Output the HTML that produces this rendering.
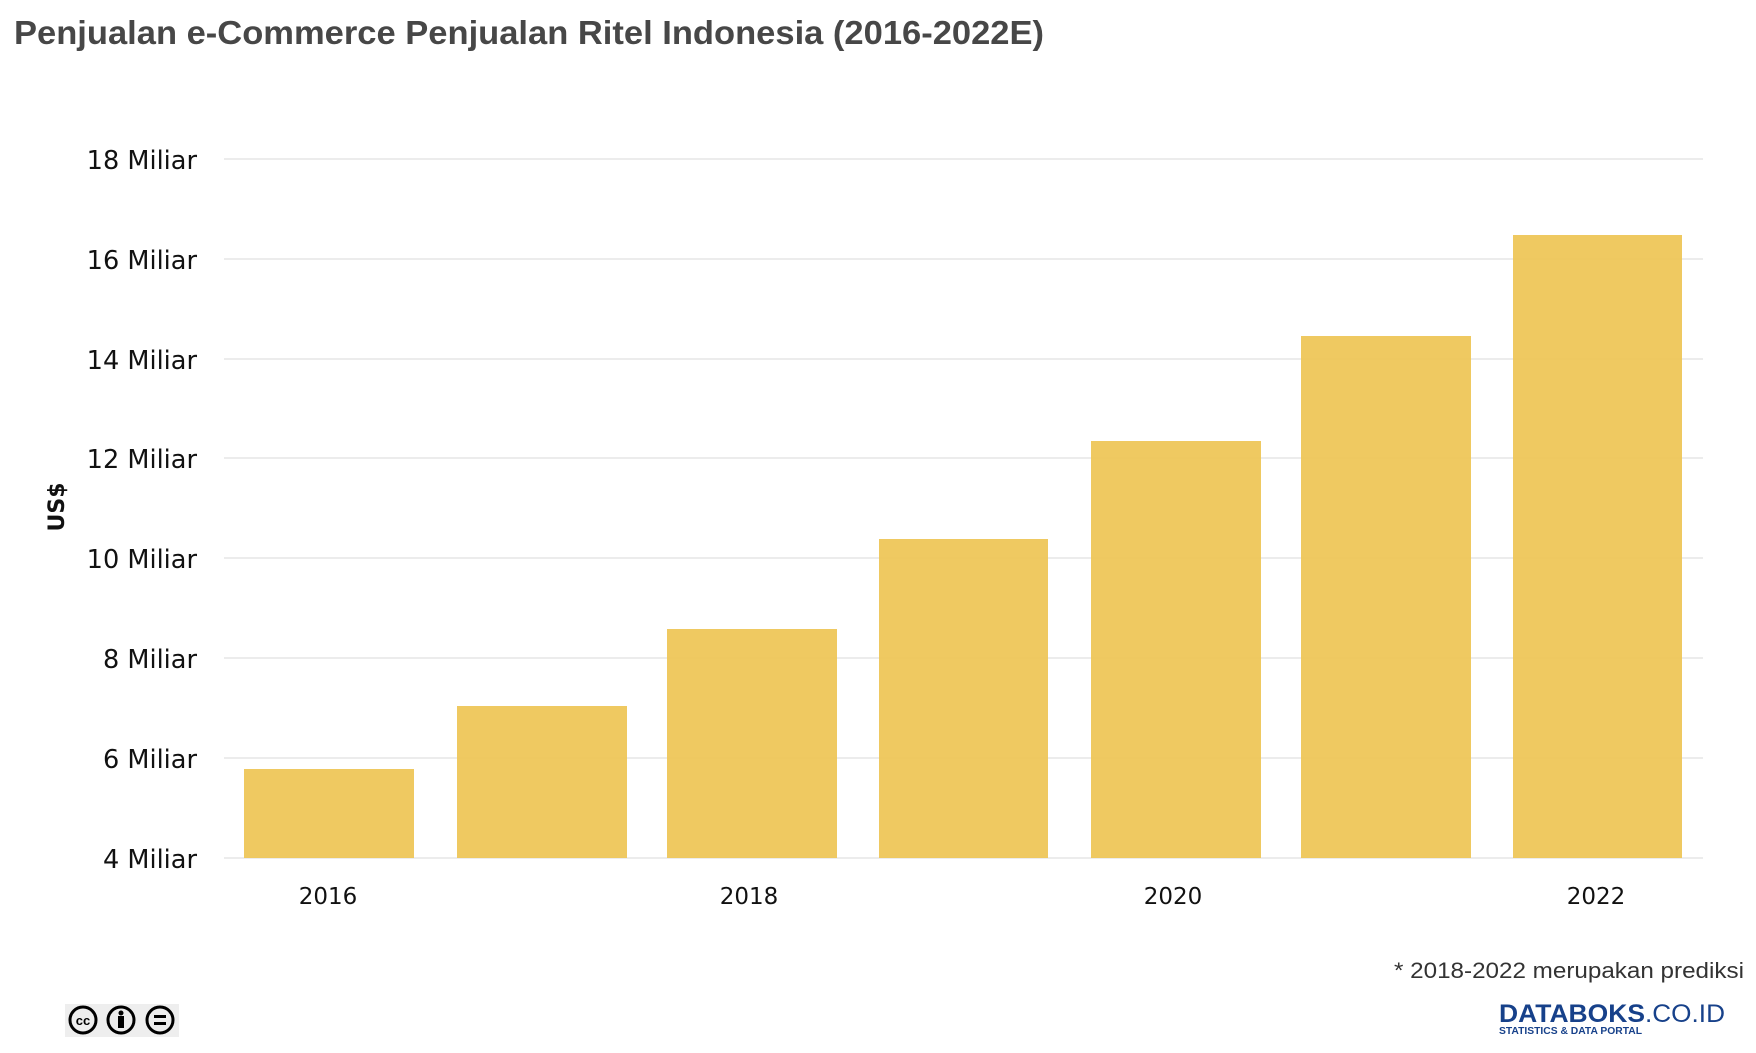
<!DOCTYPE html>
<html><head><meta charset="utf-8"><style>
body{margin:0;background:#fff;width:1756px;height:1048px;overflow:hidden;font-family:"Liberation Sans","DejaVu Sans",sans-serif}
</style></head><body>
<svg width="1756" height="1048" xmlns="http://www.w3.org/2000/svg">
<text x="14" y="44" font-family="Liberation Sans, sans-serif" font-weight="bold" font-size="33" fill="#474747" textLength="1030" lengthAdjust="spacingAndGlyphs">Penjualan e-Commerce Penjualan Ritel Indonesia (2016-2022E)</text>
<g stroke="#e6e6e6" stroke-width="1.5">
<line x1="224" x2="1703" y1="159" y2="159"/><line x1="224" x2="1703" y1="259" y2="259"/>
<line x1="224" x2="1703" y1="359" y2="359"/><line x1="224" x2="1703" y1="458" y2="458"/>
<line x1="224" x2="1703" y1="558" y2="558"/><line x1="224" x2="1703" y1="658" y2="658"/>
<line x1="224" x2="1703" y1="758" y2="758"/><line x1="224" x2="1703" y1="858" y2="858"/>
</g>
<g font-family="DejaVu Sans, sans-serif" font-size="25.6" fill="#111" text-anchor="end">
<text x="197" y="169">18 Miliar</text><text x="197" y="269">16 Miliar</text>
<text x="197" y="369">14 Miliar</text><text x="197" y="468">12 Miliar</text>
<text x="197" y="568">10 Miliar</text><text x="197" y="668">8 Miliar</text>
<text x="197" y="768">6 Miliar</text><text x="197" y="868">4 Miliar</text>
</g>
<g fill="#eec659" fill-opacity="0.95">
<rect x="244" y="769" width="170" height="89"/>
<rect x="457" y="706" width="170" height="152"/>
<rect x="667" y="629" width="170" height="229"/>
<rect x="879" y="539" width="169" height="319"/>
<rect x="1091" y="441" width="170" height="417"/>
<rect x="1301" y="336" width="170" height="522"/>
<rect x="1513" y="235" width="169" height="623"/>
</g>
<g font-family="DejaVu Sans, sans-serif" font-size="23" fill="#111" text-anchor="middle">
<text x="328" y="904">2016</text><text x="749" y="904">2018</text>
<text x="1173" y="904">2020</text><text x="1596" y="904">2022</text>
</g>
<text transform="translate(64,507) rotate(-90)" text-anchor="middle" font-family="DejaVu Sans, sans-serif" font-weight="bold" font-size="22" fill="#111">US$</text>
<text x="1744" y="978" text-anchor="end" font-family="Liberation Sans, sans-serif" font-size="22" fill="#333" textLength="350" lengthAdjust="spacingAndGlyphs">* 2018-2022 merupakan prediksi</text>
<rect x="65" y="1004" width="114" height="33" fill="#eee"/>
<g fill="none" stroke="#000" stroke-width="3">
<circle cx="83" cy="1020" r="13"/><circle cx="121" cy="1020" r="13"/><circle cx="160" cy="1020" r="13"/>
</g>
<text x="83" y="1025" text-anchor="middle" font-size="13" font-weight="bold" font-family="Liberation Sans">cc</text>
<circle cx="121" cy="1013" r="2.5"/><rect x="118" y="1016" width="6" height="12"/>
<rect x="154" y="1015" width="12" height="3"/><rect x="154" y="1022" width="12" height="3"/>
<text x="1499" y="1022" font-family="Liberation Sans, sans-serif" font-weight="bold" font-size="25" fill="#17418a" textLength="146" lengthAdjust="spacingAndGlyphs">DATABOKS</text>
<text x="1645" y="1022" font-family="Liberation Sans, sans-serif" font-size="25" fill="#17418a" textLength="80" lengthAdjust="spacingAndGlyphs">.CO.ID</text>
<text x="1499" y="1034" font-family="Liberation Sans, sans-serif" font-weight="bold" font-size="10" fill="#17418a" textLength="143" lengthAdjust="spacingAndGlyphs">STATISTICS &amp; DATA PORTAL</text>
</svg>
</body></html>
